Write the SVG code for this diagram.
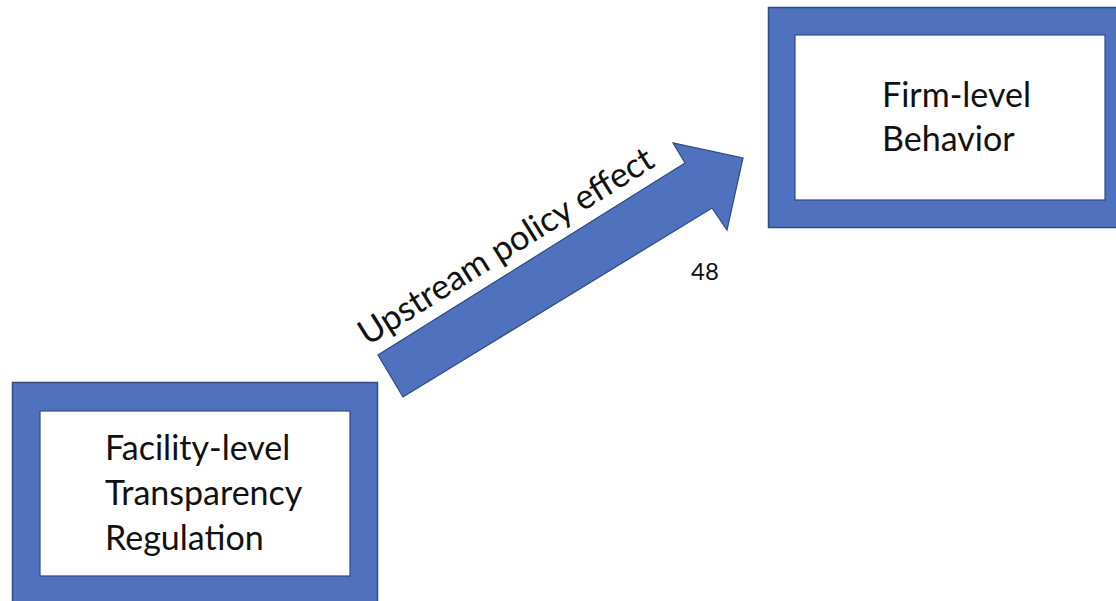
<svg xmlns="http://www.w3.org/2000/svg" width="1116" height="601" viewBox="0 0 1116 601">
  <style>
    .frame { fill: #4F71BE; stroke: #2F4B85; stroke-width: 1.5; }
    .panel { fill: #FFFFFF; stroke: #2F4B85; stroke-width: 1.2; }
    .label { font-family: Lato, "Open Sans", sans-serif; font-size: 34px; fill: #111111; }
    .arrow { fill: #4F71BE; stroke: #2F4B85; stroke-width: 1.2; stroke-linejoin: miter; }
    .edge-label { font-family: Lato, "Open Sans", sans-serif; font-size: 34.5px; fill: #111111; }
    .note { font-family: Lato, "Open Sans", sans-serif; font-size: 24px; fill: #111111; }
  </style>
  <rect width="1116" height="601" fill="#FFFFFF"/>

  <g id="facility-regulation">
    <rect class="frame" x="12.5" y="382.5" width="365" height="230"/>
    <rect class="panel" x="40" y="411" width="310" height="165"/>
    <text class="label" x="105" y="460">Facility-level</text>
    <text class="label" x="105" y="505">Transparency</text>
    <text class="label" x="105" y="550">Regulation</text>
  </g>

  <g id="firm-behavior">
    <rect class="frame" x="768.5" y="7.5" width="360" height="220"/>
    <rect class="panel" x="795" y="35" width="310" height="165"/>
    <text class="label" x="882" y="107">Firm-level</text>
    <text class="label" x="882" y="151">Behavior</text>
  </g>

  <g id="connectors">
    <polygon class="arrow" points="403,397 378,355 685,163 673,143 743,158 727,230 712,208"/>
    <text class="edge-label" text-anchor="middle" transform="translate(512,256) rotate(-32)">Upstream policy effect</text>
    <text class="note" x="691" y="280">48</text>
  </g>
</svg>
